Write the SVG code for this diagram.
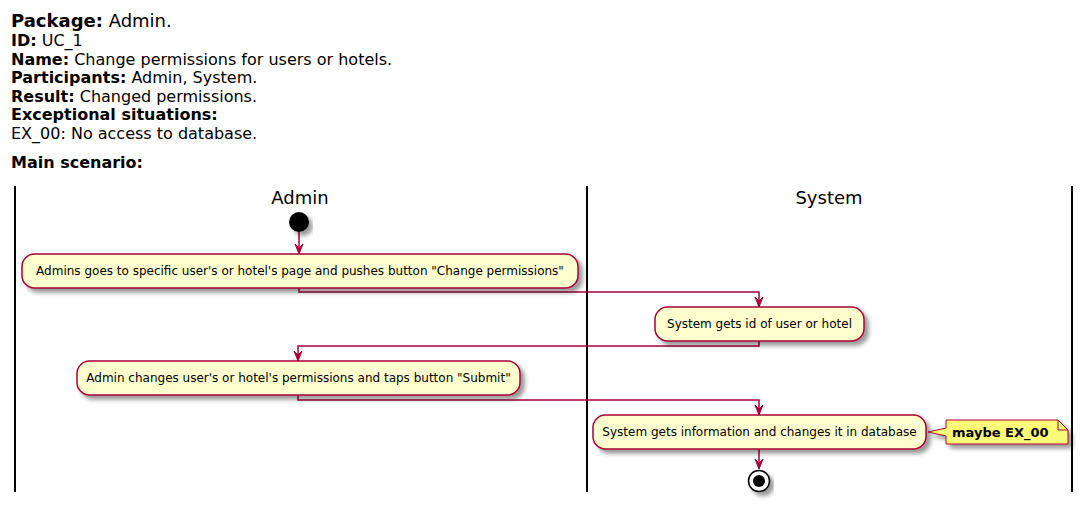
<svg xmlns="http://www.w3.org/2000/svg" width="1091" height="507" viewBox="0 0 1091 507">
<style>
text{font-family:"DejaVu Sans",sans-serif;fill:#000}
.h{font-size:16px}
.b{font-weight:bold}
.lane{stroke:#000;stroke-width:2}
.lt{font-size:18px;text-anchor:middle}
.act{fill:#FEFECE;stroke:#A80036;stroke-width:1.5}
.at{font-size:12px;text-anchor:middle}
.c{fill:none;stroke:#A80036;stroke-width:1.5}
.note{fill:#FBFB77;stroke:#A80036;stroke-width:1}
</style>
<defs>
<filter id="sh" x="-20%" y="-50%" width="140%" height="200%">
<feGaussianBlur in="SourceAlpha" stdDeviation="2"/>
<feOffset dx="4" dy="4" result="o"/>
<feComponentTransfer><feFuncA type="linear" slope="0.4"/></feComponentTransfer>
<feMerge><feMergeNode/><feMergeNode in="SourceGraphic"/></feMerge>
</filter>
<marker id="ah" viewBox="0 0 10 10" refX="10" refY="5" markerWidth="10" markerHeight="10" markerUnits="userSpaceOnUse" orient="auto">
<path d="M0,1 L10,5 L0,9 L4,5 Z" fill="#A80036" stroke="#A80036" stroke-width="1"/>
</marker>
</defs>
<rect width="1091" height="507" fill="#fff"/>
<g id="header">
<text x="11" y="27" style="font-size:18px"><tspan class="b">Package:</tspan> Admin.</text>
<text x="11" y="46" class="h"><tspan class="b">ID:</tspan> UC_1</text>
<text x="11" y="64.5" class="h"><tspan class="b">Name:</tspan> Change permissions for users or hotels.</text>
<text x="11" y="83" class="h"><tspan class="b">Participants:</tspan> Admin, System.</text>
<text x="11" y="101.5" class="h"><tspan class="b">Result:</tspan> Changed permissions.</text>
<text x="11" y="120" class="h b">Exceptional situations:</text>
<text x="11" y="138.5" class="h">EX_00: No access to database.</text>
<text x="11" y="168" class="h b">Main scenario:</text>
</g>
<g id="lanes">
<line class="lane" x1="15" y1="186" x2="15" y2="492"/>
<line class="lane" x1="587" y1="186" x2="587" y2="492"/>
<line class="lane" x1="1072" y1="186" x2="1072" y2="492"/>
<text class="lt" x="300" y="204">Admin</text>
<text class="lt" x="829" y="204">System</text>
</g>
<g id="connectors">
<path class="c" d="M299,232 V254" marker-end="url(#ah)"/>
<path class="c" d="M299,288 V292 H759 V307" marker-end="url(#ah)"/>
<path class="c" d="M759,341 V346 H298 V361" marker-end="url(#ah)"/>
<path class="c" d="M298,395 V400 H759 V415" marker-end="url(#ah)"/>
<path class="c" d="M759,449 V469" marker-end="url(#ah)"/>
</g>
<g id="start">
<circle cx="299" cy="222" r="10" fill="#000" filter="url(#sh)"/>
</g>
<g id="a1">
<rect class="act" x="22" y="254" width="556" height="34" rx="12.5" filter="url(#sh)"/>
<text class="at" x="300" y="275">Admins goes to specific user's or hotel's page and pushes button "Change permissions"</text>
</g>
<g id="a2">
<rect class="act" x="655" y="307" width="209" height="34" rx="12.5" filter="url(#sh)"/>
<text class="at" x="759.5" y="328">System gets id of user or hotel</text>
</g>
<g id="a3">
<rect class="act" x="77" y="361" width="443" height="34" rx="12.5" filter="url(#sh)"/>
<text class="at" x="298.5" y="382">Admin changes user's or hotel's permissions and taps button "Submit"</text>
</g>
<g id="a4">
<rect class="act" x="593" y="415" width="333" height="34" rx="12.5" filter="url(#sh)"/>
<text class="at" x="759.5" y="436">System gets information and changes it in database</text>
</g>
<g id="note">
<path class="note" d="M946,420 H1058 L1068,430 V444 H946 V436 L928,432 L946,428 Z" filter="url(#sh)"/>
<path d="M1058,420 V430 H1068" fill="none" stroke="#A80036" stroke-width="1"/>
<text x="952" y="437" class="b" style="font-size:13px">maybe EX_00</text>
</g>
<g id="end">
<circle cx="759" cy="481" r="10.5" fill="#fff" stroke="#000" stroke-width="1.5" filter="url(#sh)"/>
<circle cx="759" cy="481" r="6" fill="#000"/>
</g>
</svg>
